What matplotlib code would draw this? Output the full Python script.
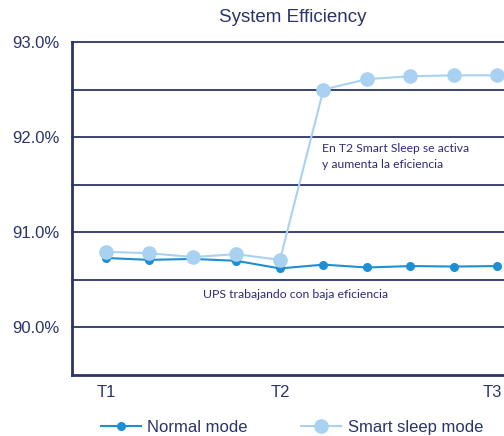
import matplotlib.pyplot as plt
import matplotlib.transforms as mtransforms
from matplotlib.ticker import MultipleLocator, FuncFormatter

# datos
x_pos = [0, 1, 2, 3, 4, 5, 6, 7, 8, 9]
normal_mode = [90.73, 90.71, 90.72, 90.70, 90.62, 90.66, 90.63, 90.645, 90.64, 90.645]
smart_sleep = [90.795, 90.78, 90.74, 90.77, 90.71, 92.50, 92.61, 92.64, 92.65, 92.65]
t_ticks = [0, 4, 9]
t_labels = ["T1", "T2", "T3"]

navy = "#2B3468"
texto = "#2E2A78"

plt.rcParams['font.family'] = ['Liberation Sans', 'DejaVu Sans']

fig = plt.figure(figsize=(5.04, 4.36), dpi=100)
ax = fig.add_axes([72 / 504, 1 - 375 / 436, 1 - 72 / 504, (375 - 42) / 436])

ax.plot(x_pos, normal_mode, color="#1E8FD3", lw=1.5, marker="o", markersize=5.5,
        label="Normal mode", zorder=3)
ax.plot(x_pos, smart_sleep, color="#A9D1F1", lw=1.5, marker="o", markersize=9.5,
        label="Smart sleep mode", zorder=4)

ax.set_xlim(-0.78, 9.15)
ax.set_ylim(89.5, 93.0)

ax.yaxis.set_major_locator(MultipleLocator(1.0))
ax.yaxis.set_minor_locator(MultipleLocator(0.5))
ax.yaxis.set_major_formatter(FuncFormatter(lambda v, p: f"{v:.1f}%" if v >= 89.9 else ""))
ax.set_xticks(t_ticks)
ax.set_xticklabels(t_labels)

for v in [90.0, 90.5, 91.0, 91.5, 92.0, 92.5, 93.0]:
    ax.axhline(v, color=navy, lw=1.3, clip_on=False, zorder=1)

ax.tick_params(axis='both', which='both', length=0, labelsize=12, colors=navy)
ax.tick_params(axis='y', pad=9)
ax.tick_params(axis='x', pad=7)

# T3 queda pegado al borde derecho, lo corro un poco para que entre
lbl = ax.get_xticklabels()[-1]
lbl.set_transform(lbl.get_transform() + mtransforms.ScaledTranslation(-5 / 100, 0, fig.dpi_scale_trans))

for s in ["top", "right"]:
    ax.spines[s].set_visible(False)
for s in ["left", "bottom"]:
    ax.spines[s].set_color(navy)
    ax.spines[s].set_linewidth(2)

fig.text(293 / 504, 1 - 18 / 436, "System Efficiency", ha="center", va="center",
         fontsize=13.5, color=navy)

ax.text(4.97, 91.80, "En T2 Smart Sleep se activa\ny aumenta la eficiencia",
        fontsize=8.7, color=texto, family=["Lato", "DejaVu Sans"], va="center",
        ha="left", linespacing=1.55)
ax.text(4.35, 90.35, "UPS trabajando con baja eficiencia", fontsize=8.8,
        color=texto, family=["Lato", "DejaVu Sans"], va="center", ha="center")

fig.legend(loc="center", bbox_to_anchor=(292 / 504, 1 - 427 / 436), ncol=2,
           frameon=False, fontsize=12, handlelength=2.4, handletextpad=0.4,
           columnspacing=3.2, labelcolor=navy)

fig.savefig("out.png", dpi=100)
